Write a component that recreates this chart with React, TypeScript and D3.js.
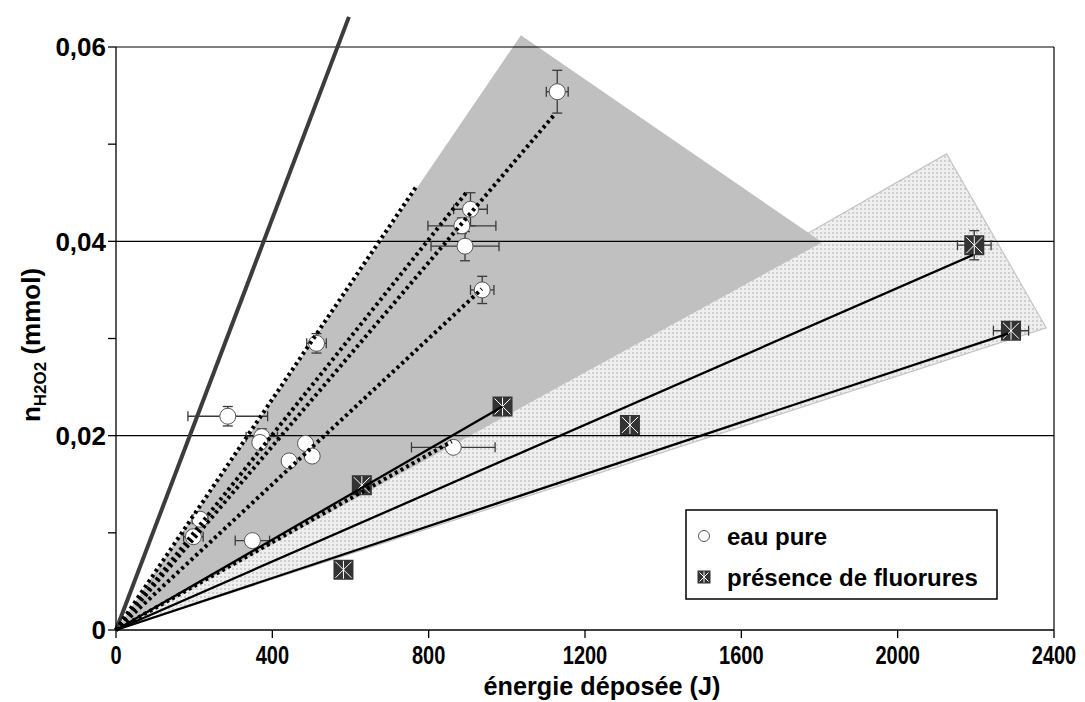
import React from "react";
import * as d3 from "d3";

// ---------- data ----------
const xTicks = [0, 400, 800, 1200, 1600, 2000, 2400];
const yTicks = [0, 0.01, 0.02, 0.03, 0.04, 0.05, 0.06];
const yLabelTicks = [0, 0.02, 0.04, 0.06];
const yTickLabels = ["0", "0,02", "0,04", "0,06"];
const gridValues = [0.02, 0.04, 0.06];

// eau pure (circles)
const waterE = [1129, 907, 885, 893, 937, 513, 286, 373, 368, 485, 502, 443, 215, 198, 349, 863];
const waterN = [0.0554, 0.0433, 0.0416, 0.0395, 0.035, 0.0295, 0.022, 0.0199, 0.0193, 0.0192, 0.0179, 0.0174, 0.0114, 0.0096, 0.0092, 0.0188];
const waterErrE = [28, 43, 87, 87, 30, 25, 102, 40, 0, 0, 0, 0, 20, 25, 44, 107];
const waterErrN = [0.0022, 0.0017, 0.0008, 0.0015, 0.0014, 0.001, 0.001, 0.0008, 0, 0, 0, 0, 0.0005, 0.0005, 0, 0];

// présence de fluorures (squares)
const fluoE = [989, 629, 582, 1315, 2196, 2290];
const fluoN = [0.023, 0.0149, 0.0062, 0.0211, 0.0396, 0.0308];
const fluoErrE = [0, 0, 0, 12, 43, 45];
const fluoErrN = [0, 0, 0, 0, 0.0015, 0.0008];

// fitted lines through origin: end points
const dottedEndE = [768, 898, 1123, 936, 859];
const dottedEndN = [0.0456, 0.0451, 0.0531, 0.0351, 0.0194];
const solidEndE = [989, 2193, 2282];
const solidEndN = [0.023, 0.0386, 0.0305];
const steepEnd = [596, 0.0631];

// shaded areas
const grayAreaE = [0, 1036, 1807];
const grayAreaN = [0, 0.0612, 0.0399];
const dotAreaE = [0, 2125, 2380];
const dotAreaN = [0, 0.049, 0.0311];

const FONT = "'Liberation Sans', Arial, sans-serif";

export default function App() {
  const x = d3.scaleLinear().domain([0, 2400]).range([116, 1054]);
  const y = d3.scaleLinear().domain([0, 0.06]).range([630, 47]);
  const line = d3.line<[number, number]>().x((d) => x(d[0])).y((d) => y(d[1]));
  const poly = (es: number[], ns: number[]) =>
    line(es.map((e, i) => [e, ns[i]] as [number, number])) + "Z";

  const errBar = (cx: number, cy: number, ex: number, ey: number, key: string, color: string) => {
    const els: any[] = [];
    const c = 5;
    if (ex > 0) {
      const x1 = x(cx - ex), x2 = x(cx + ex), yy = y(cy);
      els.push(<line key={key + "h"} x1={x1} x2={x2} y1={yy} y2={yy} stroke={color} strokeWidth={1.3} />);
      els.push(<line key={key + "hl"} x1={x1} x2={x1} y1={yy - c} y2={yy + c} stroke={color} strokeWidth={1.3} />);
      els.push(<line key={key + "hr"} x1={x2} x2={x2} y1={yy - c} y2={yy + c} stroke={color} strokeWidth={1.3} />);
    }
    if (ey > 0) {
      const y1 = y(cy - ey), y2 = y(cy + ey), xx = x(cx);
      els.push(<line key={key + "v"} x1={xx} x2={xx} y1={y1} y2={y2} stroke={color} strokeWidth={1.3} />);
      els.push(<line key={key + "vb"} x1={xx - c} x2={xx + c} y1={y1} y2={y1} stroke={color} strokeWidth={1.3} />);
      els.push(<line key={key + "vt"} x1={xx - c} x2={xx + c} y1={y2} y2={y2} stroke={color} strokeWidth={1.3} />);
    }
    return els;
  };

  const square = (cx: number, cy: number, s: number, key: string) => {
    const h = s / 2;
    return (
      <g key={key}>
        <rect x={cx - h} y={cy - h} width={s} height={s} fill="#333333" />
        <line x1={cx} x2={cx} y1={cy - h + 1} y2={cy + h - 1} stroke="#fff" strokeWidth={1} />
        <line x1={cx - h + 2} x2={cx + h - 2} y1={cy - h + 2} y2={cy + h - 2} stroke="#fff" strokeWidth={1} />
        <line x1={cx - h + 2} x2={cx + h - 2} y1={cy + h - 2} y2={cy - h + 2} stroke="#fff" strokeWidth={1} />
      </g>
    );
  };

  return (
    <svg width={1085} height={702} style={{ position: "absolute", left: 0, top: 0, background: "#fff" }} fontFamily={FONT}>
      <defs>
        <pattern id="dots" width={4} height={4} patternUnits="userSpaceOnUse">
          <rect width={4} height={4} fill="#efefef" />
          <rect width={2} height={2} fill="#cfcfcf" />
        </pattern>
      </defs>
      <rect width={1085} height={702} fill="#fff" />

      {/* shaded areas */}
      <path d={poly(dotAreaE, dotAreaN)} fill="url(#dots)" stroke="#c4c4c4" strokeWidth={1.2} />
      <path d={poly(grayAreaE, grayAreaN)} fill="#c0c0c0" />

      {/* grid lines */}
      {gridValues.map((g) => (
        <line key={"g" + g} x1={x(0)} x2={x(2400)} y1={y(g)} y2={y(g)} stroke="#000" strokeWidth={1.2} />
      ))}
      {/* right border */}
      <line x1={x(2400)} x2={x(2400)} y1={y(0.06)} y2={y(0)} stroke="#000" strokeWidth={1.2} />

      {/* error bars */}
      {waterE.map((e, i) => errBar(e, waterN[i], waterErrE[i], waterErrN[i], "we" + i, "#3a3a3a"))}
      {fluoE.map((e, i) => errBar(e, fluoN[i], fluoErrE[i], fluoErrN[i], "fe" + i, "#3a3a3a"))}

      {/* markers */}
      {waterE.map((e, i) => (
        <circle key={"w" + i} cx={x(e)} cy={y(waterN[i])} r={8} fill="#fff" stroke="#555" strokeWidth={1} />
      ))}
      {fluoE.map((e, i) => square(x(e), y(fluoN[i]), 20, "f" + i))}

      {/* steep line */}
      <path d={line([[0, 0], [steepEnd[0], steepEnd[1]]])!} stroke="#3c3c3c" strokeWidth={4} fill="none" />

      {/* solid fitted lines */}
      {solidEndE.map((e, i) => (
        <path key={"s" + i} d={line([[0, 0], [e, solidEndN[i]]])!} stroke="#000" strokeWidth={2.3} fill="none" />
      ))}

      {/* dotted fitted lines */}
      {dottedEndE.map((e, i) => (
        <path key={"d" + i} d={line([[0, 0], [e, dottedEndN[i]]])!} stroke="#000" strokeWidth={4} strokeDasharray="3 3.4" fill="none" />
      ))}

      {/* axes */}
      <line x1={x(0)} x2={x(0)} y1={y(0)} y2={y(0.06)} stroke="#000" strokeWidth={1.3} />
      <line x1={x(0)} x2={x(2400)} y1={y(0)} y2={y(0)} stroke="#000" strokeWidth={1.3} />
      {yTicks.map((t) => (
        <line key={"yt" + t} x1={x(0) - 8} x2={x(0)} y1={y(t)} y2={y(t)} stroke="#000" strokeWidth={1.3} />
      ))}
      {xTicks.map((t) => (
        <line key={"xt" + t} x1={x(t)} x2={x(t)} y1={y(0)} y2={y(0) + 8} stroke="#000" strokeWidth={1.3} />
      ))}
      {yLabelTicks.map((t, i) => (
        <text key={"yl" + t} x={106} y={y(t)} dy="0.36em" textAnchor="end" fontSize={26} fontWeight="bold">
          {yTickLabels[i]}
        </text>
      ))}
      {xTicks.map((t) => (
        <text key={"xl" + t} transform={`translate(${x(t)},664) scale(0.8,1)`} textAnchor="middle" fontSize={25} fontWeight="bold">
          {String(t)}
        </text>
      ))}

      {/* axis titles */}
      <text transform="translate(602,695) scale(0.97,1)" textAnchor="middle" fontSize={26} fontWeight="bold">
        énergie déposée (J)
      </text>
      <text transform="translate(40,345) rotate(-90)" textAnchor="middle" fontSize={26} fontWeight="bold">
        n<tspan fontSize={17} dy={6}>H2O2</tspan>
        <tspan dy={-6}> (mmol)</tspan>
      </text>

      {/* legend */}
      <rect x={686} y={510} width={311} height={89} fill="#fff" stroke="#000" strokeWidth={1.5} />
      <circle cx={704} cy={536} r={5.5} fill="#fff" stroke="#555" strokeWidth={1} />
      {square(704, 577, 13, "leg")}
      <text x={727} y={545} fontSize={24} fontWeight="bold">eau pure</text>
      <text x={727} y={586} fontSize={24} fontWeight="bold">présence de fluorures</text>
    </svg>
  );
}
